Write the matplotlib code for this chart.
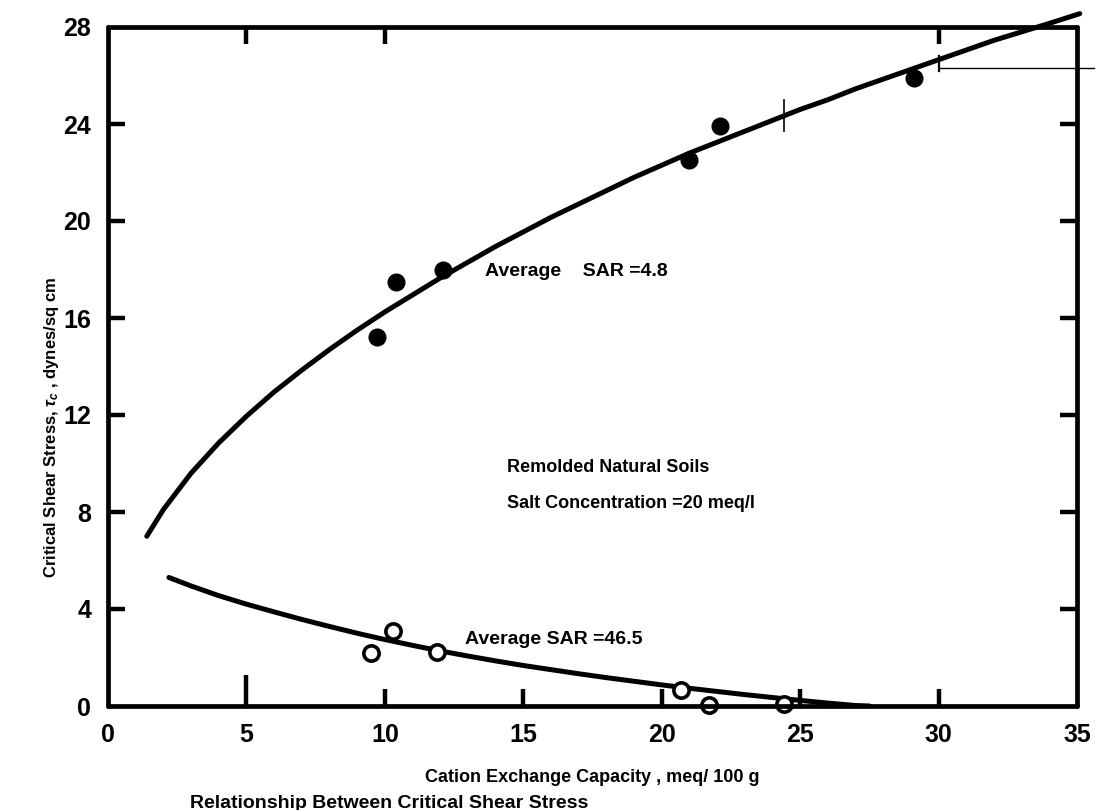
import numpy as np
import matplotlib.pyplot as plt

# measured points, cation exchange capacity (meq/100 g) vs critical shear stress
cec_sar48 = [9.7, 10.4, 12.1, 21.0, 22.1, 29.1]
tau_sar48 = [15.2, 17.5, 18.0, 22.5, 23.9, 25.9]
cec_sar465 = [9.5, 10.3, 11.9, 20.7, 21.7, 24.4]
tau_sar465 = [2.17, 3.09, 2.24, 0.65, 0.05, 0.08]

# hand-fitted curves
fit48_x = [1.4, 2, 3, 4, 5, 6, 7, 8, 9, 10, 11, 12, 13, 14, 15, 16, 17, 18,
           19, 20, 21, 22, 23, 24, 25, 26, 27, 28, 29, 30, 31, 32, 33, 34, 35.1]
fit48_y = [7.0, 8.1, 9.6, 10.85, 11.95, 12.95, 13.85, 14.7, 15.5, 16.25, 16.95,
           17.65, 18.3, 18.95, 19.55, 20.15, 20.7, 21.25, 21.8, 22.3, 22.8, 23.25,
           23.7, 24.15, 24.6, 25.0, 25.45, 25.85, 26.25, 26.65, 27.05, 27.45, 27.8,
           28.15, 28.55]
fit465_x = [2.2, 3, 4, 5, 6, 7, 8, 9, 10, 11, 12, 13, 14, 15, 16, 17, 18, 19,
            20, 21, 22, 23, 24, 25, 26, 27, 27.5]
fit465_y = [5.3, 4.95, 4.55, 4.2, 3.88, 3.57, 3.28, 3.0, 2.74, 2.5, 2.27, 2.06,
            1.86, 1.67, 1.5, 1.33, 1.17, 1.02, 0.87, 0.73, 0.6, 0.47, 0.35, 0.23,
            0.12, 0.02, 0.0]

xticks = [0, 5, 10, 15, 20, 25, 30, 35]
yticks = [0, 4, 8, 12, 16, 20, 24, 28]

plt.rcParams['font.family'] = ['Liberation Sans', 'DejaVu Sans']
plt.rcParams['font.weight'] = 'bold'
plt.rcParams['mathtext.fontset'] = 'custom'
plt.rcParams['mathtext.it'] = 'Liberation Sans:italic:bold'

fig = plt.figure(figsize=(11.07, 8.10), dpi=100)
ax = fig.add_axes([108 / 1107, 1 - 706 / 810, (1077 - 108) / 1107, (706 - 27) / 810])

ax.plot(fit48_x, fit48_y, color='black', lw=3.6, solid_capstyle='round', clip_on=False)
ax.plot(fit465_x, fit465_y, color='black', lw=3.6, solid_capstyle='round')
ax.plot(cec_sar48, tau_sar48, 'o', color='black', ms=12)
ax.plot(cec_sar465, tau_sar465, 'o', mfc='white', mec='black', mew=2.6, ms=11, clip_on=False)

# pencil reading marks near the upper end
ax.plot([30.0, 35.6], [26.3, 26.3], color='black', lw=1.0, clip_on=False)
ax.plot([24.4, 24.4], [23.7, 25.0], color='black', lw=1.2)
ax.plot([30.0, 30.0], [26.2, 26.8], color='black', lw=1.6)

ax.set_xlim(0, 35)
ax.set_ylim(0, 28)
ax.set_xticks(xticks)
ax.set_yticks(yticks)
ax.set_xticklabels([str(v) for v in xticks], fontsize=18, fontweight='heavy')
ax.set_yticklabels([str(v) for v in yticks], fontsize=18, fontweight='heavy')

for s in ax.spines.values():
    s.set_linewidth(3.4)
    s.set_capstyle('round')

ax.tick_params(axis='x', direction='in', length=12, width=3.2, pad=12, top=True)
ax.tick_params(axis='y', direction='in', length=12, width=3.2, pad=12, right=True)

# tick marks shown on each side
bottom_on = [5, 10, 15, 20, 25, 30]
top_on = [5, 10, 30]
side_on = [4, 8, 12, 16, 20, 24]
for v, t in zip(xticks, ax.xaxis.get_major_ticks()):
    t.tick1line.set_visible(v in bottom_on)
    t.tick2line.set_visible(v in top_on)
    if v == 5:
        t.tick1line.set_markersize(22)
for v, t in zip(yticks, ax.yaxis.get_major_ticks()):
    t.tick1line.set_visible(v in side_on)
    t.tick2line.set_visible(v in side_on)

ax.set_xlabel('Cation Exchange Capacity , meq/ 100 g', fontsize=13, fontweight='bold', labelpad=16)
ax.set_ylabel(r'Critical Shear Stress, $\tau_c$ , dynes/sq cm', fontsize=12,
              fontweight='bold')
ax.yaxis.set_label_coords(-0.049, 0.41)

ax.text(13.6, 17.9, 'Average    SAR =4.8', fontsize=14, fontweight='bold', va='center')
ax.text(14.4, 9.85, 'Remolded Natural Soils', fontsize=13, fontweight='bold', va='center')
ax.text(14.4, 8.35, 'Salt Concentration =20 meq/l', fontsize=13, fontweight='bold', va='center')
ax.text(12.9, 2.75, 'Average SAR =46.5', fontsize=14, fontweight='bold', va='center')

fig.text(190 / 1107, 1 - 795 / 810, 'Relationship Between Critical Shear Stress',
         fontsize=14, fontweight='bold', va='top', ha='left')

fig.savefig('out.png', dpi=100)
